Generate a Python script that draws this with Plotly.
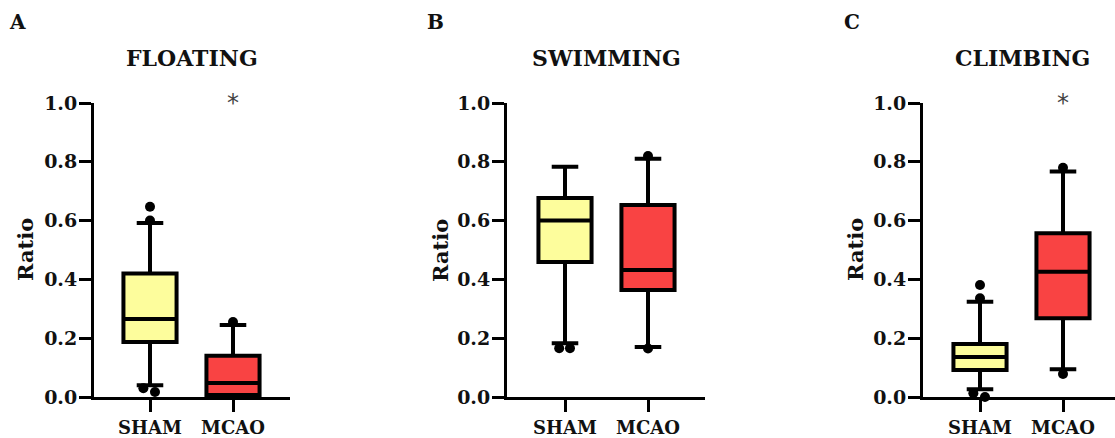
import plotly.graph_objects as go

W, H = 1115, 438

panels = ["FLOATING", "SWIMMING", "CLIMBING"]
letters = ["A", "B", "C"]
groups = ["SHAM", "MCAO"]
colors = ["#FDFD9C", "#F94343"]

# box statistics per panel: [SHAM, MCAO]
q1 = [[0.187, 0.007], [0.459, 0.364], [0.092, 0.268]]
median = [[0.265, 0.048], [0.600, 0.432], [0.136, 0.426]]
q3 = [[0.420, 0.140], [0.677, 0.653], [0.180, 0.557]]
lowerfence = [[0.040, 0.0], [0.183, 0.170], [0.026, 0.094]]
upperfence = [[0.592, 0.245], [0.783, 0.810], [0.324, 0.767]]

# individual points beyond the whiskers: (group index, jitter, value)
pts_group = [[0, 0, 0, 0, 1], [0, 0, 1, 1], [0, 0, 0, 0, 1, 1]]
pts_jitter = [[0.0, 0.0, -0.08, 0.06, 0.0], [-0.07, 0.06, 0.0, 0.0], [0.0, 0.0, -0.08, 0.06, 0.0, 0.0]]
pts_value = [[0.647, 0.600, 0.030, 0.017, 0.255], [0.166, 0.166, 0.820, 0.165],
             [0.381, 0.336, 0.013, 0.0, 0.780, 0.078]]

significant = [[False, True], [False, False], [False, True]]

# layout geometry (pixels)
axis_left = [94, 507, 923]
axis_right = [290, 705, 1115]
sham_px = [150, 565, 980]
spacing = 83.0
y0_px, y1_px = 397, 103
title_x = [192, 606, 1022]
letter_x = [17, 435, 852]
ratio_x = [25, 440, 855]

FONT = "DejaVu Serif"

fig = go.Figure()
layout = dict(
    width=W, height=H,
    margin=dict(l=0, r=0, t=0, b=0, autoexpand=False),
    paper_bgcolor="white", plot_bgcolor="white",
    showlegend=False,
)
annotations = []

for p in range(3):
    sfx = "" if p == 0 else str(p + 1)
    xa, ya = "x" + sfx, "y" + sfx
    for g in range(2):
        fig.add_trace(go.Box(
            x=[g], q1=[q1[p][g]], median=[median[p][g]], q3=[q3[p][g]],
            lowerfence=[lowerfence[p][g]], upperfence=[upperfence[p][g]],
            fillcolor=colors[g], line=dict(color="black", width=4),
            whiskerwidth=0.5, width=0.64, boxpoints=False,
            xaxis=xa, yaxis=ya, hoverinfo="skip",
        ))
    xs = [pts_group[p][i] + pts_jitter[p][i] for i in range(len(pts_value[p]))]
    fig.add_trace(go.Scatter(
        x=xs, y=pts_value[p], mode="markers",
        marker=dict(color="black", size=10),
        cliponaxis=False, xaxis=xa, yaxis=ya, hoverinfo="skip",
    ))
    xr0 = -(sham_px[p] - axis_left[p]) / spacing
    xr1 = (axis_right[p] - sham_px[p]) / spacing
    layout["xaxis" + sfx] = dict(
        domain=[axis_left[p] / W, min(axis_right[p] / W, 1.0)],
        anchor=ya, range=[xr0, xr1], automargin=False,
        tickmode="array", tickvals=[0, 1], ticktext=groups,
        showline=True, linewidth=3, linecolor="black",
        ticks="outside", ticklen=12, tickwidth=3, tickcolor="black",
        showgrid=False, zeroline=False,
        tickfont=dict(family=FONT, size=18, color="#111", weight="bold"),
    )
    layout["yaxis" + sfx] = dict(
        domain=[(H - y0_px) / H, (H - y1_px) / H],
        anchor=xa, range=[0, 1.0], automargin=False,
        tickmode="array", tickvals=[0, 0.2, 0.4, 0.6, 0.8, 1.0],
        ticktext=["0.0", "0.2", "0.4", "0.6", "0.8", "1.0"],
        showline=True, linewidth=3, linecolor="black",
        ticks="outside", ticklen=12, tickwidth=3, tickcolor="black",
        ticklabelstandoff=-2,
        showgrid=False, zeroline=False,
        tickfont=dict(family=FONT, size=19, color="#111", weight="bold"),
    )
    annotations.append(dict(
        text=panels[p], xref="paper", yref="paper",
        x=title_x[p] / W, y=(H - 58) / H, showarrow=False,
        xanchor="center", yanchor="middle",
        font=dict(family=FONT, size=22, color="#111", weight="bold"),
    ))
    annotations.append(dict(
        text=letters[p], xref="paper", yref="paper",
        x=letter_x[p] / W, y=(H - 22) / H, showarrow=False,
        xanchor="center", yanchor="middle",
        font=dict(family=FONT, size=20, color="#111", weight="bold"),
    ))
    annotations.append(dict(
        text="Ratio", xref="paper", yref="paper",
        x=ratio_x[p] / W, y=(H - 250) / H, showarrow=False,
        textangle=-90, xanchor="center", yanchor="middle",
        font=dict(family=FONT, size=21, color="#111", weight="bold"),
    ))
    for g in range(2):
        if significant[p][g]:
            annotations.append(dict(
                text="*", xref=xa, yref=ya, x=g, y=1.0, showarrow=False,
                xanchor="center", yanchor="middle",
                font=dict(family="DejaVu Sans", size=24, color="#444"),
            ))

layout["annotations"] = annotations
fig.update_layout(**layout)
fig.write_html("out.html")
